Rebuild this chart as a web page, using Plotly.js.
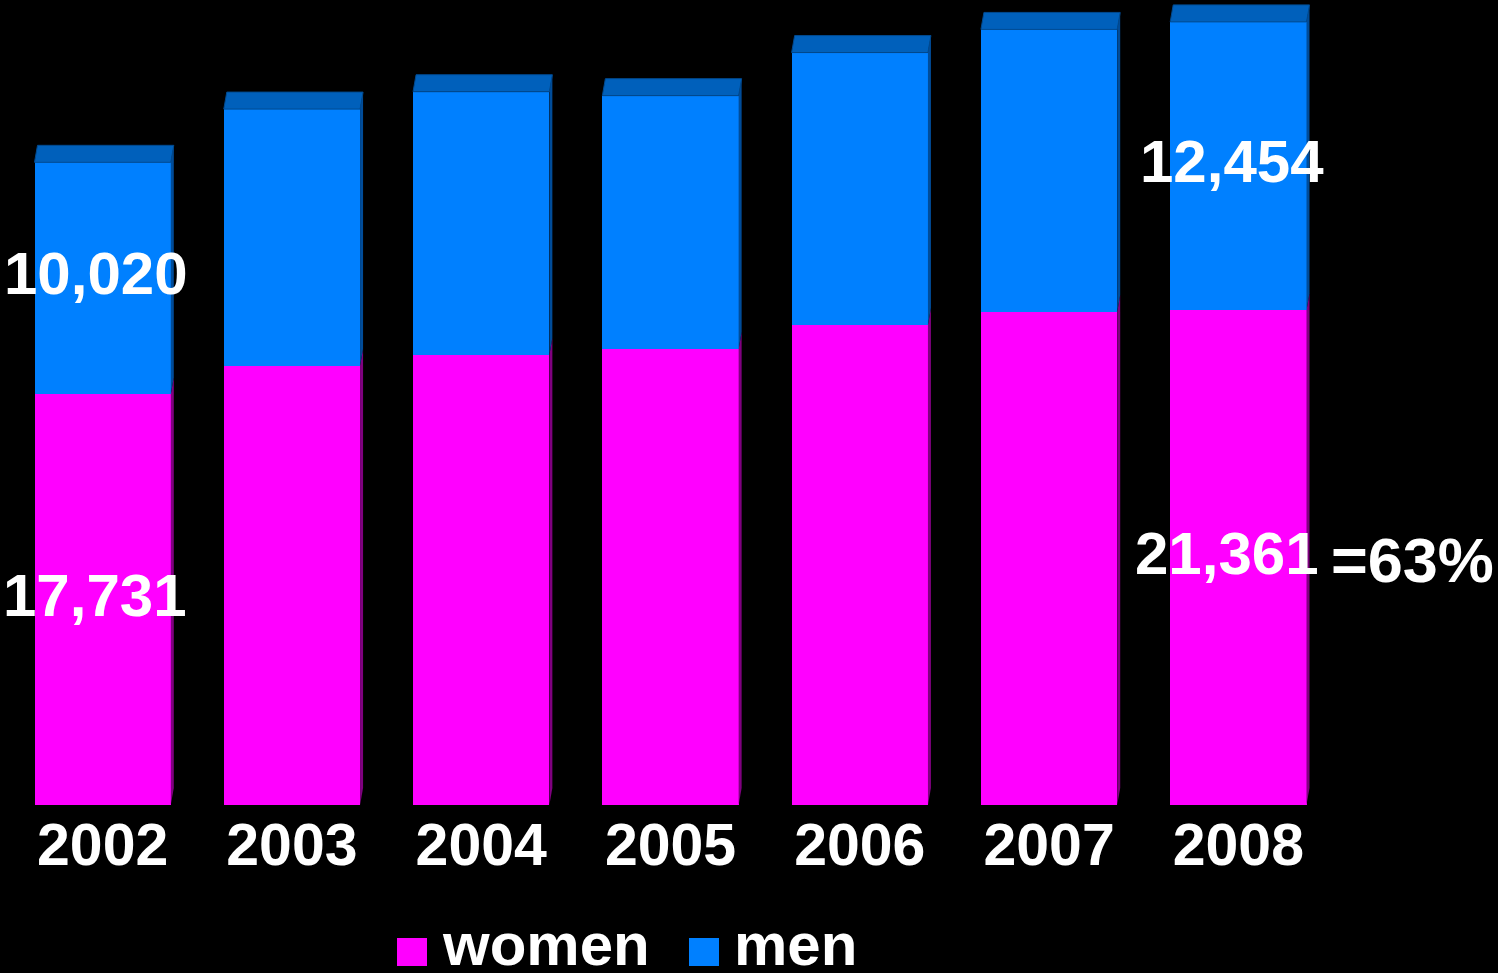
<!DOCTYPE html>
<html>
<head>
<meta charset="utf-8">
<script src="https://cdn.plot.ly/plotly-3.0.1.min.js"></script>
<style>html,body{margin:0;padding:0;background:#000;}#chart{width:1498px;height:973px;}</style>
</head>
<body>
<div id="chart"></div>
<script>
// ---- data ----
const years = ['2002', '2003', '2004', '2005', '2006', '2007', '2008'];
const women = [17731, 18970, 19430, 19690, 20730, 21300, 21361];
const men   = [10020, 11080, 11370, 10940, 11760, 12190, 12454];
const seriesNames = ['women', 'men'];
const labelledYears = ['2002', '2008'];

// ---- layout constants ----
const W = 1498, H = 973;
const M = {l: 8, r: 165, t: 0, b: 168};
const plotW = W - M.l - M.r, plotH = H - M.t - M.b;
const xRange = [-0.5, years.length - 0.5];
const yRange = [0, 34760];
const barW = 0.72;
const FONT = 'Liberation Sans, Arial, sans-serif';
const pink = '#FF00FF', blue = '#0080FF';

const idx = years.map((_, i) => i);
const pxX = plotW / (xRange[1] - xRange[0]);
const pxY = plotH / (yRange[1] - yRange[0]);
const depthX = 3 / pxX, depthY = 17 / pxY;

const traces = [
  {type: 'bar', name: seriesNames[0], x: idx, y: women, width: barW,
   marker: {color: pink, line: {width: 0}}, hoverinfo: 'skip', showlegend: false},
  {type: 'bar', name: seriesNames[1], x: idx, y: men, width: barW,
   marker: {color: blue, line: {width: 0}}, hoverinfo: 'skip', showlegend: false}
];

// 3D faces built from the data
const shapes = [];
idx.forEach(i => {
  const x0 = i - barW / 2, x1 = i + barW / 2;
  const wTop = women[i], tTop = women[i] + men[i];
  shapes.push({type: 'path', xref: 'x', yref: 'y', layer: 'above',
    path: `M${x1},0 L${x1},${wTop} L${x1 + depthX},${wTop + depthY} L${x1 + depthX},${depthY} Z`,
    fillcolor: '#800080', line: {width: 0}});
  shapes.push({type: 'path', xref: 'x', yref: 'y', layer: 'above',
    path: `M${x1},${wTop} L${x1},${tTop} L${x1 + depthX},${tTop + depthY} L${x1 + depthX},${wTop + depthY} Z`,
    fillcolor: '#004C99', line: {width: 0}});
  shapes.push({type: 'path', xref: 'x', yref: 'y', layer: 'above',
    path: `M${x0},${tTop} L${x1},${tTop} L${x1 + depthX},${tTop + depthY} L${x0 + depthX},${tTop + depthY} Z`,
    fillcolor: '#0060BB', line: {width: 1, color: '#004A90'}});
});

const fmt = v => v.toLocaleString('en-US');
const lblFont = {family: FONT, size: 60, color: '#FFFFFF', weight: 'bold'};
const annotations = [];
labelledYears.forEach(yr => {
  const i = years.indexOf(yr);
  const xs = i === 0 ? [-8, -7] : [-11, -6];
  annotations.push({x: i, y: women[i] / 2, xref: 'x', yref: 'y', text: fmt(women[i]),
    showarrow: false, font: lblFont, xshift: xs[0], yshift: 4});
  annotations.push({x: i, y: women[i] + men[i] / 2, xref: 'x', yref: 'y', text: fmt(men[i]),
    showarrow: false, font: lblFont, xshift: xs[1], yshift: 5});
});
const last = years.length - 1;
const pct = Math.round(100 * women[last] / (women[last] + men[last]));
annotations.push({x: last, y: women[last] / 2, xref: 'x', yref: 'y', text: '=' + pct + '%',
  showarrow: false, xanchor: 'left', xshift: 91, yshift: -2,
  font: {family: FONT, size: 63, color: '#FFFFFF', weight: 'bold'}});

// manual legend (large swatches)
const px2paperX = p => (p - M.l) / plotW;
const px2paperY = p => (M.t + plotH - p) / plotH;
const legendItems = [
  {name: seriesNames[0], color: pink, sq: 397, tx: 440},
  {name: seriesNames[1], color: blue, sq: 689, tx: 732}
];
legendItems.forEach(it => {
  shapes.push({type: 'rect', xref: 'paper', yref: 'paper',
    x0: px2paperX(it.sq), x1: px2paperX(it.sq + 30), y0: px2paperY(938), y1: px2paperY(966),
    fillcolor: it.color, line: {width: 0}});
  annotations.push({xref: 'paper', yref: 'paper', x: px2paperX(it.tx), y: px2paperY(945),
    xanchor: 'left', yanchor: 'middle', text: it.name, showarrow: false,
    font: {family: FONT, size: 60, color: '#FFFFFF', weight: 'bold'}});
});

const layout = {
  width: W, height: H,
  margin: M,
  paper_bgcolor: '#000000', plot_bgcolor: '#000000',
  barmode: 'stack', bargap: 0.28,
  showlegend: false,
  xaxis: {range: xRange, tickmode: 'array', tickvals: idx, ticktext: years,
    showgrid: false, zeroline: false, showline: false, ticks: '',
    tickfont: {family: FONT, size: 59, color: '#FFFFFF', weight: 'bold'}, fixedrange: true},
  yaxis: {range: yRange, visible: false, showgrid: false, zeroline: false, fixedrange: true},
  shapes: shapes,
  annotations: annotations
};

Plotly.newPlot('chart', traces, layout, {displayModeBar: false, staticPlot: true});
</script>
</body>
</html>
